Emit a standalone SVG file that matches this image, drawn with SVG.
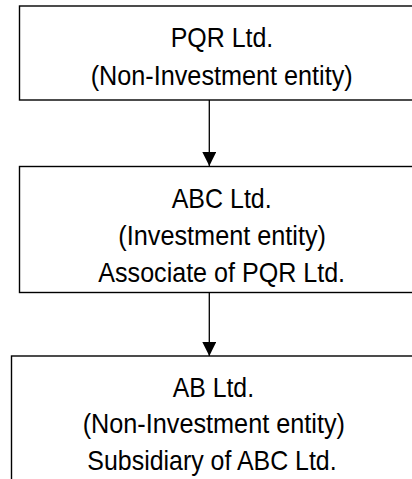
<svg xmlns="http://www.w3.org/2000/svg" width="412" height="479" viewBox="0 0 412 479">
  <style>
    .box { fill: #ffffff; stroke: #000000; stroke-width: 1.4; }
    .label { font-family: "Liberation Sans", Arial, sans-serif; font-size: 27.5px; fill: #000000; text-anchor: middle; }
    .link { stroke: #000000; stroke-width: 1.3; fill: none; }
  </style>
  <defs>
    <marker id="arrow" markerWidth="14" markerHeight="16" refX="14" refY="7" orient="auto" markerUnits="userSpaceOnUse">
      <path d="M0,0 L14,7 L0,14 Z" fill="#000000"/>
    </marker>
  </defs>
  <rect width="412" height="479" fill="#ffffff"/>

  <g id="connectors">
    <line class="link" x1="209.3" y1="100" x2="209.3" y2="166" marker-end="url(#arrow)"/>
    <line class="link" x1="209.3" y1="292.5" x2="209.3" y2="356" marker-end="url(#arrow)"/>
  </g>

  <g id="pqr">
    <rect class="box" x="19.5" y="6" width="405" height="94"/>
    <text class="label" x="222" y="46.7" textLength="102.6" lengthAdjust="spacingAndGlyphs">PQR Ltd.</text>
    <text class="label" x="221.7" y="84.5" textLength="262" lengthAdjust="spacingAndGlyphs">(Non-Investment entity)</text>
  </g>

  <g id="abc">
    <rect class="box" x="19.5" y="166.5" width="405" height="126"/>
    <text class="label" x="221.7" y="208" textLength="100" lengthAdjust="spacingAndGlyphs">ABC Ltd.</text>
    <text class="label" x="222.2" y="245" textLength="207.7" lengthAdjust="spacingAndGlyphs">(Investment entity)</text>
    <text class="label" x="221.7" y="281.7" textLength="246.7" lengthAdjust="spacingAndGlyphs">Associate of PQR Ltd.</text>
  </g>

  <g id="ab">
    <rect class="box" x="11.5" y="356" width="405" height="140"/>
    <text class="label" x="213.4" y="396.7" textLength="81.3" lengthAdjust="spacingAndGlyphs">AB Ltd.</text>
    <text class="label" x="213.8" y="433.3" textLength="262.3" lengthAdjust="spacingAndGlyphs">(Non-Investment entity)</text>
    <text class="label" x="212" y="470" textLength="249.3" lengthAdjust="spacingAndGlyphs">Subsidiary of ABC Ltd.</text>
  </g>
</svg>
